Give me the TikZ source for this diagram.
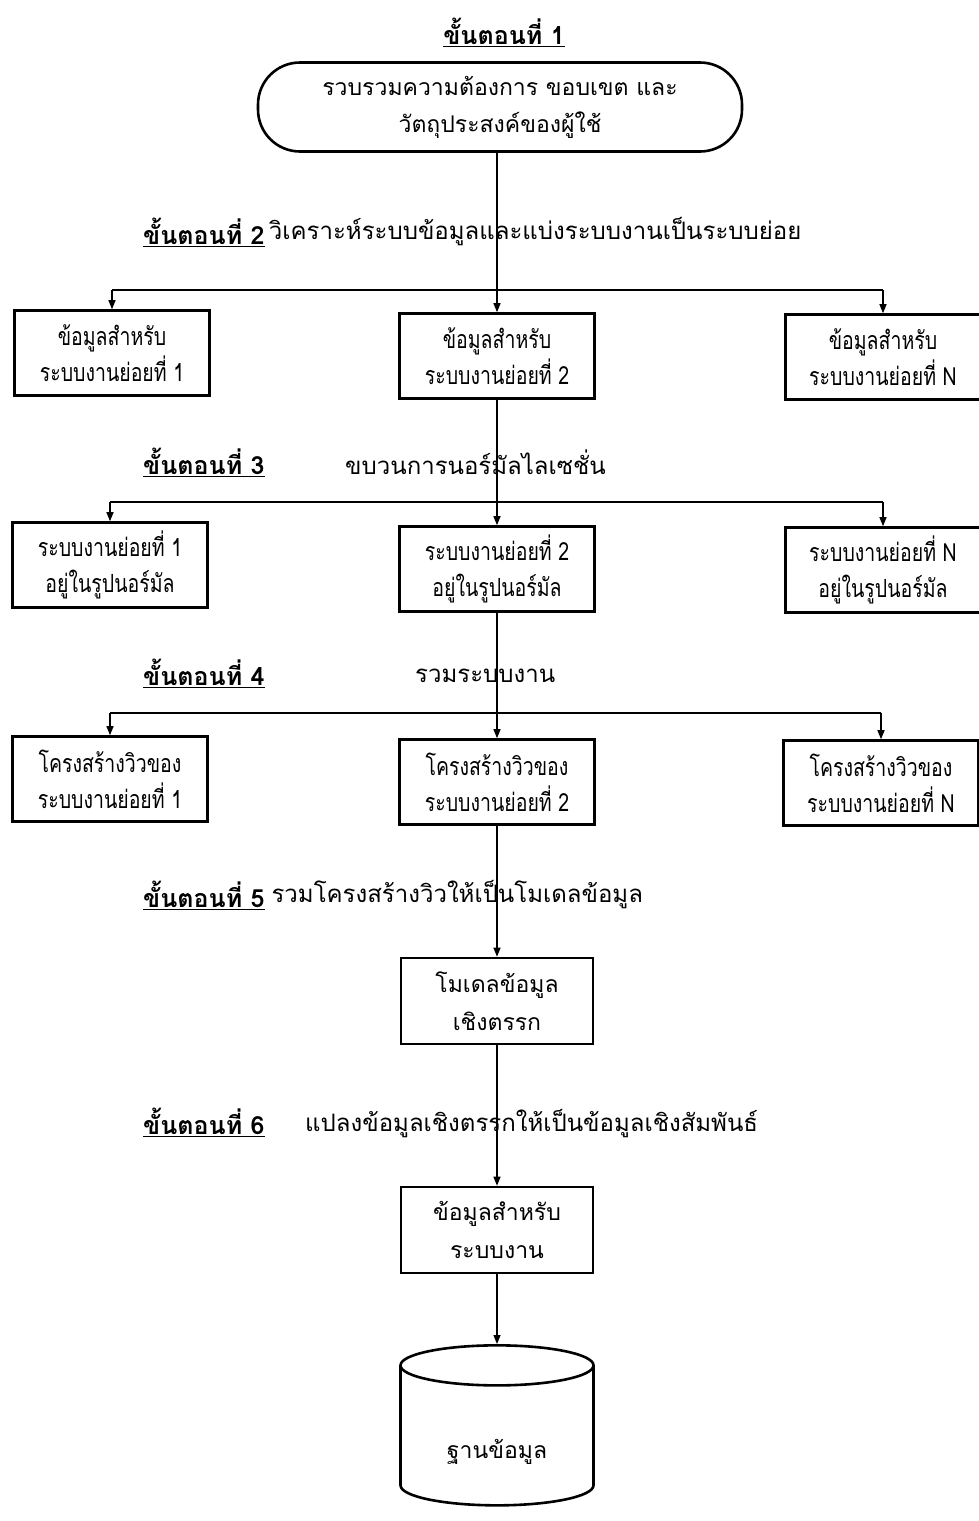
\documentclass[tikz,border=0pt]{standalone}
\usepackage{fontspec}
\newfontfamily\thai[Script=Thai]{Loma}
\newfontfamily\thaicond[Script=Thai,FakeStretch=0.78]{Loma}
\usetikzlibrary{arrows.meta,shapes.geometric}
\begin{document}
\begin{tikzpicture}[x=1pt,y=-1pt,
  conn/.style={line width=1.3pt},
  arr/.style={line width=1.3pt,-{Triangle[length=9pt,width=7pt]}},
  rowbox/.style={draw,line width=2.6pt,minimum width=195pt,minimum height=85pt,align=center,inner sep=0pt,font=\thaicond\fontsize{25}{36}\selectfont},
  bigbox/.style={draw,line width=2.6pt,minimum width=192pt,minimum height=86pt,align=center,inner sep=0pt,font=\thai\fontsize{23}{38}\selectfont},
  steplbl/.style={anchor=west,inner sep=0pt,font=\thai\bfseries\fontsize{25}{28}\selectfont},
  desc/.style={anchor=west,inner sep=0pt,font=\thai\fontsize{24}{28}\selectfont}
]
\useasboundingbox (0,0) rectangle (979,1521);
\fill[white] (0,0) rectangle (979,1521);

% step 1
\node[inner sep=0pt,font=\thai\bfseries\fontsize{25}{28}\selectfont] (t1) at (504,32) {\underline{ขั้นตอนที่ 1}};
\node[draw,line width=2.6pt,rounded corners=42pt,minimum width=484pt,minimum height=89pt,align=center,inner sep=0pt,font=\thai\fontsize{23}{37}\selectfont] (top) at (500,107) {รวบรวมความต้องการ ขอบเขต และ\\วัตถุประสงค์ของผู้ใช้};

% step 2
\node[steplbl] (s2) at (143,232) {\underline{ขั้นตอนที่ 2}};
\node[desc] (s2d) at (s2.east) {\,วิเคราะห์ระบบข้อมูลและแบ่งระบบงานเป็นระบบย่อย};

\node[rowbox] (a1) at (112,353) {ข้อมูลสำหรับ\\ระบบงานย่อยที่ 1};
\node[rowbox] (a2) at (497,356) {ข้อมูลสำหรับ\\ระบบงานย่อยที่ 2};
\node[rowbox] (a3) at (883,357) {ข้อมูลสำหรับ\\ระบบงานย่อยที่ N};
\coordinate (h1) at (497,290);
\draw[arr] (top.south -| a2) -- (a2.north);
\draw[conn] (a1.north |- h1) -- (a3.north |- h1);
\draw[arr] (a1.north |- h1) -- (a1.north);
\draw[arr] (a3.north |- h1) -- (a3.north);

% step 3
\node[steplbl] (s3) at (143,462) {\underline{ขั้นตอนที่ 3}};
\node[desc] (s3d) at (345,462) {ขบวนการนอร์มัลไลเซชั่น};

\node[rowbox] (b1) at (110,565) {ระบบงานย่อยที่ 1\\อยู่ในรูปนอร์มัล};
\node[rowbox] (b2) at (497,569) {ระบบงานย่อยที่ 2\\อยู่ในรูปนอร์มัล};
\node[rowbox] (b3) at (883,570) {ระบบงานย่อยที่ N\\อยู่ในรูปนอร์มัล};
\coordinate (h2) at (497,502);
\draw[arr] (a2.south) -- (b2.north);
\draw[conn] (b1.north |- h2) -- (b3.north |- h2);
\draw[arr] (b1.north |- h2) -- (b1.north);
\draw[arr] (b3.north |- h2) -- (b3.north);

% step 4
\node[steplbl] (s4) at (143,673) {\underline{ขั้นตอนที่ 4}};
\node[desc] (s4d) at (415,676) {รวมระบบงาน};

\node[rowbox] (c1) at (110,779) {โครงสร้างวิวของ\\ระบบงานย่อยที่ 1};
\node[rowbox] (c2) at (497,782) {โครงสร้างวิวของ\\ระบบงานย่อยที่ 2};
\node[rowbox] (c3) at (881,783) {โครงสร้างวิวของ\\ระบบงานย่อยที่ N};
\coordinate (h3) at (497,713);
\draw[arr] (b2.south) -- (c2.north);
\draw[conn] (c1.north |- h3) -- (c3.north |- h3);
\draw[arr] (c1.north |- h3) -- (c1.north);
\draw[arr] (c3.north |- h3) -- (c3.north);

% step 5
\node[steplbl] (s5) at (143,895) {\underline{ขั้นตอนที่ 5}};
\node[desc] (s5d) at (s5.east) {\;รวมโครงสร้างวิวให้เป็นโมเดลข้อมูล};
\node[bigbox] (d) at (497,1001) {โมเดลข้อมูล\\เชิงตรรก};
\draw[arr] (c2.south) -- (d.north);

% step 6
\node[steplbl] (s6) at (143,1122) {\underline{ขั้นตอนที่ 6}};
\node[desc] (s6d) at (305,1124) {แปลงข้อมูลเชิงตรรกให้เป็นข้อมูลเชิงสัมพันธ์};
\node[bigbox] (e) at (497,1230) {ข้อมูลสำหรับ\\ระบบงาน};
\draw[arr] (d.south) -- (e.north);

% database
\node[cylinder,draw,line width=2.6pt,shape border rotate=90,aspect=0.4,minimum width=193pt,minimum height=160pt,inner sep=0pt,font=\thai\fontsize{23}{26}\selectfont] (db) at (497,1436) {\raisebox{-22pt}[0pt][0pt]{ฐานข้อมูล}};
\draw[arr] (e.south) -- (db.north);
\end{tikzpicture}
\end{document}
